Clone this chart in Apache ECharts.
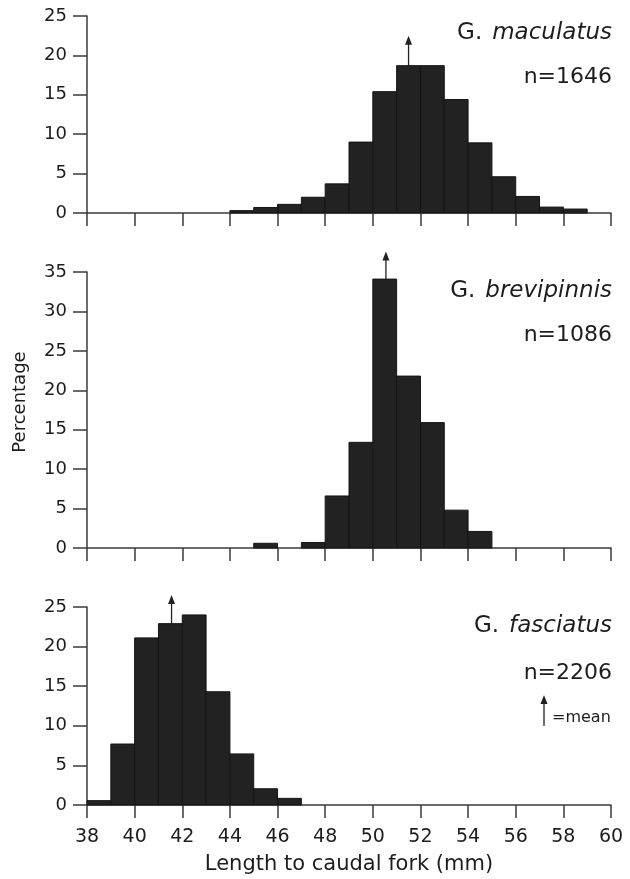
<!DOCTYPE html>
<html>
<head>
<meta charset="utf-8">
<style>
  html, body { margin: 0; padding: 0; background: #fff; }
  #chart { width: 630px; height: 879px; }
</style>
<script src="https://cdn.jsdelivr.net/npm/echarts@6/dist/echarts.min.js"></script>
</head>
<body>
<div id="chart"></div>
<script>
// ---- data ----
const binStarts = [38,39,40,41,42,43,44,45,46,47,48,49,50,51,52,53,54,55,56,57,58,59];
const binWidth = 1;
const maculatus   = [0,0,0,0,0,0,0.3,0.7,1.1,2.0,3.7,9.0,15.4,18.7,18.7,14.4,8.9,4.6,2.1,0.75,0.5,0];
const brevipinnis = [0,0,0,0,0,0,0,0.6,0,0.7,6.6,13.4,34.1,21.8,15.9,4.8,2.1,0,0,0,0,0];
const fasciatus   = [0.55,7.7,21.1,22.9,24.0,14.3,6.45,2.05,0.84,0,0,0,0,0,0,0,0,0,0,0,0,0];
const species = ['maculatus','brevipinnis','fasciatus'];
const sampleN = [1646, 1086, 2206];
const means = [51.5, 50.55, 41.55];
const arrowTips = [22.5, 37.6, 26.5];
const yMax = [25, 35, 25];
const yInterval = 5;
const xTicks = [38,40,42,44,46,48,50,52,54,56,58,60];
const xMin = 38, xMax = 60, xInterval = 2;
const xName = 'Length to caudal fork (mm)';
const yName = 'Percentage';
const legendText = '=mean';
const allValues = [maculatus, brevipinnis, fasciatus];

// ---- layout ----
const FONT = 'DejaVu Sans';
const INK = '#1d1d1d';
const gridTops = [16, 272, 607];
const gridHeights = [197, 276, 198];

const chart = echarts.init(document.getElementById('chart'), null, {renderer: 'canvas'});

function barItem(params, api) {
  const x0 = api.value(0), x1 = api.value(1), v = api.value(2);
  if (!v) return null;
  const p0 = api.coord([x0, 0]);
  const p1 = api.coord([x1, v]);
  return {
    type: 'rect',
    shape: {x: p0[0], y: p1[1], width: p1[0] - p0[0], height: p0[1] - p1[1]},
    style: {fill: '#222222', stroke: '#151515', lineWidth: 1}
  };
}
function arrowItem(params, api) {
  const base = api.coord([api.value(0), api.value(1)]);
  const tip = api.coord([api.value(0), api.value(2)]);
  return {
    type: 'group',
    children: [
      {type: 'line', shape: {x1: base[0], y1: base[1], x2: tip[0], y2: tip[1] + 5},
       style: {stroke: '#222', lineWidth: 1.3}},
      {type: 'polygon', shape: {points: [[tip[0], tip[1]], [tip[0] - 3.5, tip[1] + 9], [tip[0] + 3.5, tip[1] + 9]]},
       style: {fill: '#222'}}
    ]
  };
}

const grids = [], xAxes = [], yAxes = [], series = [], titles = [];
for (let i = 0; i < 3; i++) {
  const last = i === 2;
  grids.push({left: 87, right: 19, top: gridTops[i], height: gridHeights[i]});
  xAxes.push({
    type: 'value', gridIndex: i, min: xMin, max: xMax, interval: xInterval,
    axisLine: {show: true, onZero: false, lineStyle: {color: '#3a3a3a', width: 1.5}},
    axisTick: {show: true, length: 13, lineStyle: {color: '#3a3a3a', width: 1.5}},
    splitLine: {show: false},
    axisLabel: {show: last, margin: 23, fontFamily: FONT, fontSize: 19, color: INK},
    name: last ? xName : '', nameLocation: 'middle', nameGap: 49,
    nameTextStyle: {fontFamily: FONT, fontSize: 21, color: INK}
  });
  yAxes.push({
    type: 'value', gridIndex: i, min: 0, max: yMax[i], interval: yInterval,
    axisLine: {show: true, lineStyle: {color: '#3a3a3a', width: 1.5}},
    axisTick: {show: true, length: 14, lineStyle: {color: '#3a3a3a', width: 1.5}},
    splitLine: {show: false},
    axisLabel: {margin: 20, fontFamily: FONT, fontSize: 18, color: INK}
  });
  const vals = allValues[i];
  series.push({
    type: 'custom', xAxisIndex: i, yAxisIndex: i,
    renderItem: barItem,
    encode: {x: [0, 1], y: 2},
    data: binStarts.map((b, k) => [b, b + binWidth, vals[k]])
  });
  const binIdx = binStarts.findIndex(b => means[i] >= b && means[i] < b + binWidth);
  series.push({
    type: 'custom', xAxisIndex: i, yAxisIndex: i, clip: false,
    renderItem: arrowItem,
    encode: {x: 0, y: [1, 2]},
    data: [[means[i], vals[binIdx], arrowTips[i]]]
  });
}

const titleTops = [[22, 66], [280, 324], [615, 662]];
for (let i = 0; i < 3; i++) {
  titles.push({
    text: '{g|G.}  {s|' + species[i] + '}', right: 18, top: titleTops[i][0], padding: 0,
    textStyle: {
      fontWeight: 'normal',
      rich: {
        g: {fontFamily: FONT, fontSize: 23, fontWeight: 'normal', color: INK},
        s: {fontFamily: FONT, fontSize: 23, fontWeight: 'normal', fontStyle: 'italic', color: INK}
      }
    }
  });
  titles.push({
    text: 'n=' + sampleN[i], right: 18, top: titleTops[i][1], padding: 0,
    textStyle: {fontFamily: FONT, fontSize: 22, fontWeight: 'normal', color: INK}
  });
}

chart.setOption({
  animation: false,
  backgroundColor: '#fff',
  title: titles,
  grid: grids,
  xAxis: xAxes,
  yAxis: yAxes,
  series: series,
  graphic: [
    {type: 'text', x: 20, y: 402, rotation: Math.PI / 2,
     style: {text: yName, fontFamily: FONT, fontSize: 18, fill: INK, align: 'center', verticalAlign: 'middle'}},
    {type: 'group', children: [
      {type: 'line', shape: {x1: 544, y1: 702, x2: 544, y2: 726}, style: {stroke: '#222', lineWidth: 1.3}},
      {type: 'polygon', shape: {points: [[544, 695], [540.5, 704], [547.5, 704]]}, style: {fill: '#222'}},
      {type: 'text', x: 552, y: 718,
       style: {text: legendText, fontFamily: FONT, fontSize: 16, fill: INK, align: 'left', verticalAlign: 'middle'}}
    ]}
  ]
});
</script>
</body>
</html>
